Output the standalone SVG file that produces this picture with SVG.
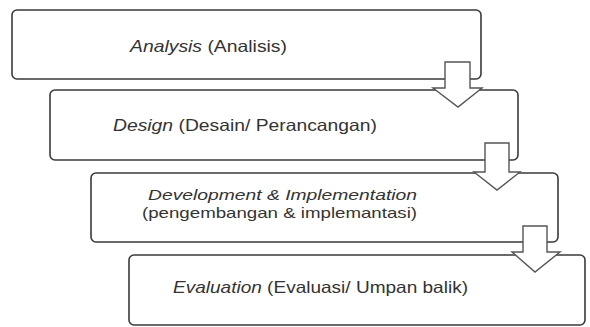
<svg xmlns="http://www.w3.org/2000/svg" width="590" height="327" viewBox="0 0 590 327">
<style>
.box{fill:#fff;stroke:#3a3a3a;stroke-width:1.6}
.arrow{fill:#fff;stroke:#555;stroke-width:1.4;stroke-linejoin:miter}
text{font-family:"Liberation Sans",Arial,sans-serif;font-size:16.5px;fill:#333}
.it{font-style:italic}
.sm{font-size:14.5px}
</style>
<rect width="590" height="327" fill="#fff"/>
<g id="node-analysis">
<rect class="box" x="12" y="10" width="469" height="69" rx="5"/>
<text x="130" y="52" textLength="157" lengthAdjust="spacingAndGlyphs"><tspan class="it">Analysis</tspan> (Analisis)</text>
</g>
<g id="node-design">
<rect class="box" x="50" y="90" width="468" height="70" rx="5"/>
<text x="113" y="131" textLength="264" lengthAdjust="spacingAndGlyphs"><tspan class="it">Design</tspan> (Desain/ Perancangan)</text>
</g>
<g id="node-development">
<rect class="box" x="91" y="173" width="467" height="69" rx="5"/>
<text class="it sm" x="148" y="200" textLength="269" lengthAdjust="spacingAndGlyphs">Development &amp; Implementation</text>
<text class="sm" x="142" y="218" textLength="275" lengthAdjust="spacingAndGlyphs">(pengembangan &amp; implemantasi)</text>
</g>
<g id="node-evaluation">
<rect class="box" x="129" y="255" width="456" height="70" rx="5"/>
<text x="173" y="293" textLength="295" lengthAdjust="spacingAndGlyphs"><tspan class="it">Evaluation</tspan> (Evaluasi/ Umpan balik)</text>
</g>
<g id="connectors">
<path class="arrow" d="M445,62 H470 V88 H482 L458,107 L433,88 H445 Z"/>
<path class="arrow" d="M485,143 H509 V172 H520 L497,190 L474,172 H485 Z"/>
<path class="arrow" d="M523,226 H547 V252 H560 L535,272 L512,252 H523 Z"/>
</g>
</svg>
